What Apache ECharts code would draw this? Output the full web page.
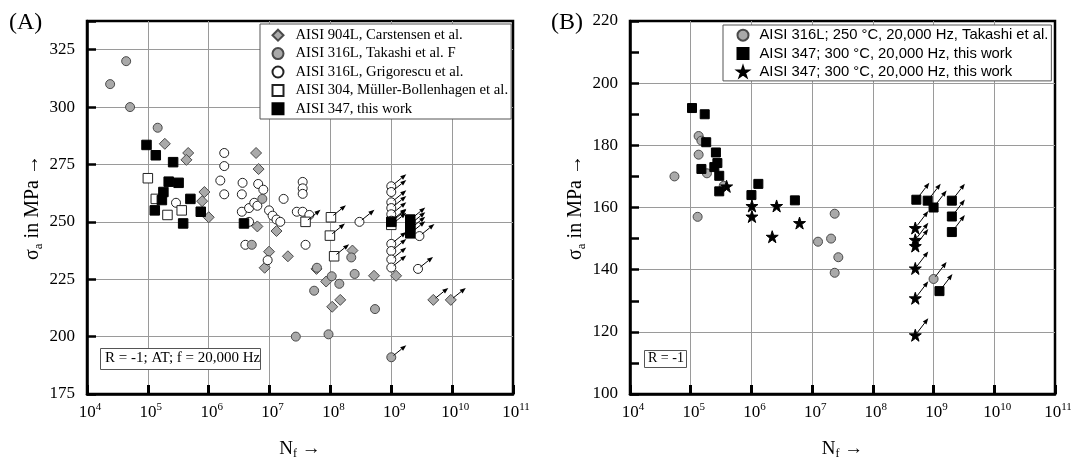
<!DOCTYPE html>
<html><head><meta charset="utf-8">
<script src="https://cdn.jsdelivr.net/npm/echarts@6/dist/echarts.min.js"></script>
<style>html,body{margin:0;padding:0;background:#fff}#c{width:1071px;height:458px}</style>
</head><body><div id="c"></div>
<script>
// ---------- Panel A data: [N_f, sigma_a (MPa), runout flag] ----------
const a904L = [[1.9e5,284],[4.6e5,280],[4.3e5,277],[8.5e5,263],[7.8e5,259],[1.0e6,252],[6.0e6,280],[6.6e6,273],[6.3e6,248],[9.8e6,237],[8.3e6,230],[1.3e7,246],[2.0e7,235],[5.9e7,229.5],[8.5e7,224],[1.07e8,213],[1.45e8,216],[2.3e8,237.5],[5.2e8,226.5],[1.2e9,226.5],[4.9e9,216,1],[9.5e9,216,1]];
const a316LTakashi = [[2.4e4,310],[4.4e4,320],[5.1e4,300],[1.45e5,291],[7.6e6,260],[5.1e6,240],[6.0e7,230],[5.4e7,220],[2.7e7,200],[9.3e7,201],[1.05e8,226.3],[1.4e8,223],[2.2e8,234.5],[2.5e8,227.3],[5.4e8,212],[1.0e9,191,1]];
const a316LGrigorescu = [[2.9e5,258.3],[1.8e6,280],[1.8e6,274.3],[1.55e6,268],[1.8e6,262],[3.6e6,267],[3.5e6,262],[3.5e6,254.4],[4.6e6,256],[5.6e6,258.3],[4.6e6,250],[4.0e6,240],[6.5e6,266.5],[7.9e6,264],[6.3e6,257],[9.3e6,233.3],[9.8e6,255],[1.12e7,252.7],[1.3e7,251],[1.5e7,250],[1.7e7,260],[2.8e7,254.4],[3.5e7,254.4],[4.5e7,253],[3.5e7,267.4],[3.5e7,264.6],[3.5e7,262.2],[3.9e7,240],[3.0e8,250,1],[1e9,265.5,1],[1e9,263,1],[1e9,258.5,1],[1e9,256,1],[1e9,253.3,1],[1e9,250.5,1],[1e9,240.4,1],[1e9,237.3,1],[1e9,233.6,1],[1e9,230.1,1],[2.9e9,243.8,1],[2.75e9,229.5,1]];
const a304 = [[1.0e5,269],[1.35e5,260],[2.1e5,253],[3.6e5,255],[3.9e7,250,1],[1.02e8,252,1],[9.8e7,244,1],[1.15e8,235,1],[1.0e9,248.7,1]];
const a347 = [[9.5e4,283.5],[1.35e5,279],[2.6e5,276],[2.2e5,267.5],[3.2e5,267],[1.8e5,263],[1.7e5,259.5],[1.3e5,255],[5.0e5,260],[3.8e5,249.3],[7.4e5,254.4],[3.8e6,249.3],[1.0e9,250,1],[2.05e9,251,1],[2.05e9,249,1],[2.05e9,247,1],[2.05e9,245,1]];

// ---------- Panel B data ----------
const b316L = [[5.4e4,170],[1.35e5,183],[1.5e5,181.5],[1.35e5,177],[1.85e5,171],[1.3e5,157],[3.5e5,167],[1.25e7,149],[2.35e7,158],[2.05e7,150],[2.7e7,144],[2.35e7,139],[1.0e9,137,1]];
const b347Square = [[1.05e5,192],[1.7e5,190],[1.8e5,181],[2.6e5,177.7],[2.75e5,174.3],[2.45e5,173],[1.5e5,172.4],[2.95e5,170.2],[2.95e5,165.2],[1.0e6,164],[1.3e6,167.6],[5.2e6,162.3],[5.2e8,162.5,1],[8.0e8,162.2,1],[1.0e9,160,1],[2.0e9,162.2,1],[2.0e9,157.1,1],[2.0e9,152.1,1],[1.25e9,133.1,1]];
const b347Star = [[3.9e5,166.8],[1.02e6,160.5],[1.02e6,157.1],[2.6e6,160.5],[2.2e6,150.6],[6.2e6,155],[5.0e8,153.4,1],[5.0e8,149.6,1],[5.0e8,147.6,1],[5.0e8,140.4,1],[5.0e8,130.8,1],[5.0e8,118.9,1]];

// ---------- labels ----------
const namesA = ['AISI 904L, Carstensen et al.','AISI 316L, Takashi et al. F','AISI 316L, Grigorescu et al.','AISI 304, Müller-Bollenhagen et al.','AISI 347, this work'];
const namesB = ['AISI 316L; 250 °C, 20,000 Hz, Takashi et al.','AISI 347; 300 °C, 20,000 Hz, this work','AISI 347; 300 °C, 20,000 Hz, this work '];
const yTicksA = {min:175, max:337.5, step:25};
const yTicksB = {min:100, max:220, step:20, minorStep:10};
const xExtent = [1e4, 1e11];

const SERIF = "'Liberation Serif','Times New Roman',serif";
const SANS = "'Liberation Sans',Arial,sans-serif";
const GRAY = '#a9a9a9', EDGE = '#4a4a4a';
const STAR = 'path://M50,0L61.2,34.5L97.6,34.5L68.2,55.9L79.4,90.5L50,69.1L20.6,90.5L31.8,55.9L2.4,34.5L38.8,34.5Z';

function xAxisCfg(gi){
  return {
    type:'log', logBase:10, gridIndex:gi, min:xExtent[0], max:xExtent[1], splitNumber:7,
    name:'{n|N}{sub|f}{n| →}', nameLocation:'middle', nameGap:44,
    nameTextStyle:{rich:{n:{fontFamily:SERIF,fontSize:19,color:'#000',lineHeight:22},sub:{fontFamily:SERIF,fontSize:12,color:'#000',verticalAlign:'bottom',lineHeight:14}}},
    axisLine:{show:true,lineStyle:{color:'#000',width:2.5}},
    axisTick:{show:true,inside:true,length:9,lineStyle:{color:'#000',width:3}},
    splitLine:{show:true,showMinLine:false,showMaxLine:false,lineStyle:{color:'#9a9a9a',width:1}},
    axisLabel:{margin:8,padding:[0,0,0,6],formatter:function(v){return '{b|10}{s|'+Math.round(Math.log10(v))+'}';},
      rich:{b:{fontFamily:SERIF,fontSize:17,color:'#000',lineHeight:22},s:{fontFamily:SERIF,fontSize:11,color:'#000',verticalAlign:'top',lineHeight:15}}}
  };
}
function yAxisCfg(gi,t){
  return {
    type:'value', gridIndex:gi, min:t.min, max:t.max, interval:t.step,
    name:'{n|σ}{sub|a}{n| in MPa →}', nameLocation:'middle', nameGap:42, nameRotate:90,
    nameTextStyle:{rich:{n:{fontFamily:SERIF,fontSize:20,color:'#000',lineHeight:24},sub:{fontFamily:SERIF,fontSize:13,color:'#000',verticalAlign:'bottom',lineHeight:14}}},
    axisLine:{show:true,lineStyle:{color:'#000',width:2.5}},
    axisTick:{show:true,inside:true,length:9,lineStyle:{color:'#000',width:2.5}},
    splitLine:{show:true,showMinLine:false,showMaxLine:false,lineStyle:{color:'#9a9a9a',width:1}},
    axisLabel:{margin:12,fontFamily:SERIF,fontSize:17,color:'#000',formatter:function(v){return ((v-t.min)%t.step===0)?String(v):'';}}
  };
}
// extra axis carrying only the minor tick stubs
function yMinorCfg(gi,t){
  return {type:'value',gridIndex:gi,min:t.min,max:t.max,interval:t.minorStep,position:'left',
    axisLine:{show:false},axisLabel:{show:false},splitLine:{show:false},
    axisTick:{show:true,inside:true,length:9,lineStyle:{color:'#000',width:2.5}}};
}
function sc(name,data,gi,yi,symbol,size,fill,stroke,z){
  return {type:'scatter',name:name,xAxisIndex:gi,yAxisIndex:yi,data:data,symbol:symbol,symbolSize:size,z:z||2,
    itemStyle:{color:fill,borderColor:stroke,borderWidth:1,opacity:1},emphasis:{disabled:true},animation:false};
}
function arrows(gi,yi,sets,dx,dy){
  const pts=[];
  sets.forEach(function(s){s.forEach(function(p){if(p[2]) pts.push([p[0],p[1]]);});});
  return {type:'custom',xAxisIndex:gi,yAxisIndex:yi,data:pts,z:6,silent:true,animation:false,
    renderItem:function(params,api){
      const p=api.coord([api.value(0),api.value(1)]);
      const L=Math.sqrt(dx*dx+dy*dy), ux=dx/L, uy=dy/L;
      const x1=p[0]+dx, y1=p[1]+dy, hx=x1-ux*6, hy=y1-uy*6, px=-uy*2.3, py=ux*2.3;
      return {type:'group',children:[
        {type:'line',shape:{x1:p[0]+ux*3,y1:p[1]+uy*3,x2:hx,y2:hy},style:{stroke:'#000',lineWidth:1}},
        {type:'polygon',shape:{points:[[x1,y1],[hx+px,hy+py],[hx-px,hy-py]]},style:{fill:'#000'}}
      ]};
    }};
}

const chart = echarts.init(document.getElementById('c'),null,{renderer:'canvas'});
chart.setOption({
  animation:false,
  backgroundColor:'#fff',
  grid:[
    {left:87,top:21,width:426,height:373,show:true,borderColor:'#000',borderWidth:2.5,containLabel:false,outerBoundsMode:'none'},
    {left:630,top:21,width:425,height:373,show:true,borderColor:'#000',borderWidth:2.5,containLabel:false,outerBoundsMode:'none'}
  ],
  xAxis:[xAxisCfg(0),xAxisCfg(1)],
  yAxis:[yAxisCfg(0,yTicksA),yAxisCfg(1,yTicksB),yMinorCfg(1,yTicksB)],
  legend:[
    {data:namesA,orient:'vertical',left:260,top:24,itemWidth:11,itemHeight:11,itemGap:0,padding:[2,3,1,11.5],
     backgroundColor:'#fff',borderColor:'#555',borderWidth:1,borderRadius:0,selectedMode:false,
     textStyle:{fontFamily:SERIF,fontSize:14.7,color:'#000',lineHeight:18.4,padding:[0,0,0,7]}},
    {data:namesB,orient:'vertical',left:723,top:25,itemWidth:11,itemHeight:11,itemGap:0,padding:[1,3,0,13.5],
     backgroundColor:'#fff',borderColor:'#555',borderWidth:1,borderRadius:0,selectedMode:false,
     textStyle:{fontFamily:SANS,fontSize:14.8,color:'#000',lineHeight:18.3,padding:[0,0,0,6]}}
  ],
  series:[
    sc(namesA[0],a904L,0,0,'diamond',11,GRAY,EDGE,2),
    sc(namesA[2],a316LGrigorescu,0,0,'circle',9,'#fff','#222',3),
    sc(namesA[3],a304,0,0,'rect',9.5,'#fff','#222',3),
    sc(namesA[1],a316LTakashi,0,0,'circle',9,GRAY,EDGE,4),
    sc(namesA[4],a347,0,0,'rect',9.5,'#000','#000',5),
    arrows(0,0,[a904L,a316LTakashi,a316LGrigorescu,a304,a347],15,-12),
    sc(namesB[0],b316L,1,1,'circle',9,GRAY,EDGE,2),
    sc(namesB[1],b347Square,1,1,'rect',9,'#000','#000',3),
    sc(namesB[2],b347Star,1,1,STAR,12,'#000','#000',4),
    arrows(1,1,[b316L,b347Square,b347Star],13,-17)
  ],
  graphic:[
    {type:'text',left:9,top:11,style:{text:'(A)',font:'24px '+SERIF,fill:'#000'}},
    {type:'text',left:551,top:11,style:{text:'(B)',font:'24px '+SERIF,fill:'#000'}},
    {type:'rect',left:100,top:348,shape:{width:160,height:21},style:{fill:'#fff',stroke:'#555',lineWidth:1},z:10},
    {type:'text',left:105,top:351,style:{text:'R = -1; AT; f = 20,000 Hz',font:'15px '+SERIF,fill:'#000'},z:11},
    {type:'rect',left:644,top:350,shape:{width:42,height:17},style:{fill:'#fff',stroke:'#555',lineWidth:1},z:10},
    {type:'text',left:648,top:351,style:{text:'R = -1',font:'14px '+SERIF,fill:'#000'},z:11}
  ]
});
</script></body></html>
